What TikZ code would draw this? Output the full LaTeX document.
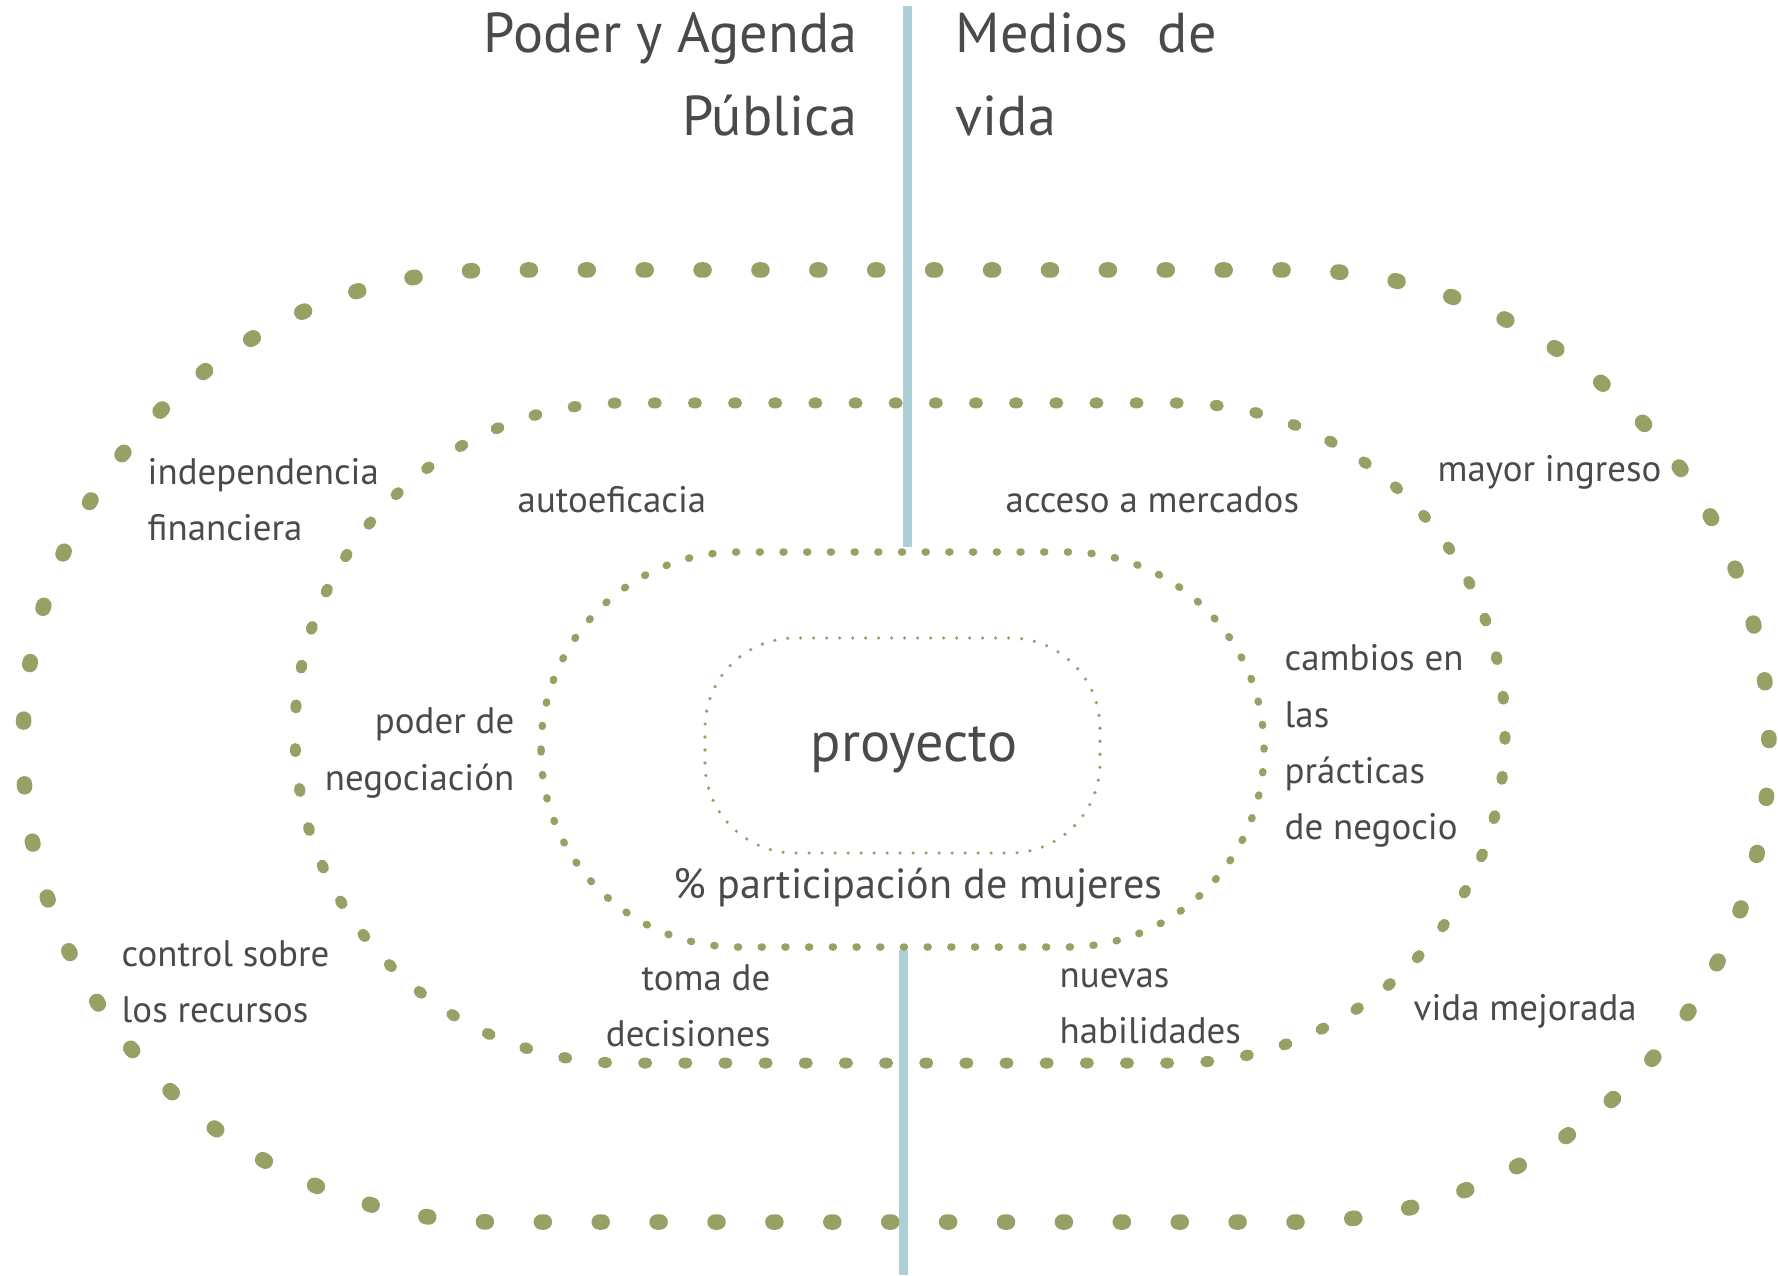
\documentclass[tikz,border=0pt]{standalone}
\usepackage{fontspec}
\setmainfont{PT Sans}
\usepackage{tikz}
\definecolor{dotgreen}{HTML}{97A165}
\definecolor{axisblue}{HTML}{AECFD8}
\definecolor{txtgray}{HTML}{4A4A4A}

\begin{document}
\begin{tikzpicture}[
    lbl/.style={text=txtgray,inner sep=0pt,font=\fontsize{10.5}{16}\selectfont},
    ttl/.style={text=txtgray,inner sep=0pt,font=\fontsize{16}{20}\selectfont},
    ringa/.style={draw=dotgreen,line cap=round,line width=0.155cm,dash pattern=on 0.03cm off 0.549cm,dash phase=0.33cm},
    ringb/.style={draw=dotgreen,line cap=round,line width=0.11cm,dash pattern=on 0.03cm off 0.3715cm,dash phase=0.14cm},
    ringc/.style={draw=dotgreen,line cap=round,line width=0.075cm,dash pattern=on 0.01cm off 0.227cm},
    ringd/.style={draw=dotgreen,line cap=round,line width=0.036cm,dash pattern=on 0pt off 0.13cm}]
          \useasboundingbox (0,0) rectangle (17.78,12.75);
          % divider
          \draw[axisblue,line width=0.09cm] (9.07,12.69) -- (9.07,7.28);
          \draw[axisblue,line width=0.09cm] (9.03,3.25) -- (9.03,0);
          % rings, outer to inner
          \draw[ringa,rounded corners=4.75cm] (0.23,0.53) rectangle (17.69,10.05);
          \draw[ringb,rounded corners=3.29cm] (2.95,2.12) rectangle (15.05,8.72);
          \draw[ringc,rounded corners=1.97cm] (5.41,3.28) rectangle (12.64,7.23);
          \draw[ringd,rounded corners=0.9cm] (7.05,4.22) rectangle (11.00,6.37);
          % headings
          \node[ttl,anchor=base east] (poder) at (8.58,12.22) {Poder y Agenda};
          \node[ttl,anchor=base east] (publica) at (8.58,11.39) {Pública};
          \node[ttl,anchor=base west] (medios) at (9.55,12.22) {Medios~ de};
          \node[ttl,anchor=base west] (vida) at (9.55,11.39) {vida};
          % centre
          \node[text=txtgray,font=\fontsize{16}{20}\selectfont] (proyecto) at (9.14,5.25) {proyecto};
          \node[text=txtgray,font=\fontsize{12}{15}\selectfont] (participacion) at (9.18,3.87) {\% participación de mujeres};
          % labels, upper half
          \node[lbl,anchor=west,align=left] (independencia) at (1.47,7.75) {independencia\\financiera};     % outer
          \node[lbl,anchor=west] (autoeficacia) at (5.17,7.75) {autoeficacia};                             % middle
          \node[lbl,anchor=west] (acceso) at (10.05,7.75) {acceso a mercados};                              % middle
          \node[lbl,anchor=west] (ingreso) at (14.37,8.03) {mayor ingreso};                                 % outer
          \node[lbl,anchor=west,align=left] (cambios) at (12.84,5.29) {cambios en\\las\\prácticas\\de negocio}; % third
          \node[lbl,anchor=east,align=right] (negociacion) at (5.15,5.22) {poder de\\negociación};          % third
          % labels, lower half
          \node[lbl,anchor=west,align=left] (control) at (1.21,2.93) {control sobre\\los recursos};         % outer
          \node[lbl,anchor=east,align=right] (decisiones) at (7.71,2.69) {toma de\\decisiones};             % middle
          \node[lbl,anchor=west,align=left] (habilidades) at (10.59,2.69) {nuevas\\habilidades};           % middle
          \node[lbl,anchor=west] (mejorada) at (14.13,2.64) {vida mejorada};                                % outer
        \end{tikzpicture}
\end{document}
